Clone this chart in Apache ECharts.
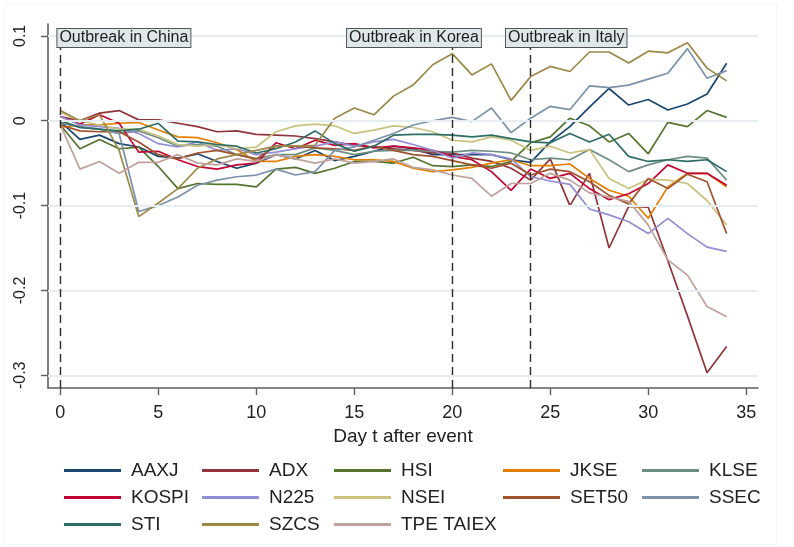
<!DOCTYPE html>
<html>
<head>
<meta charset="utf-8">
<script src="https://cdn.jsdelivr.net/npm/echarts@6/dist/echarts.min.js"></script>
<style>
html,body{margin:0;padding:0;background:#fff;}
#chart{width:794px;height:547px;}
</style>
</head>
<body>
<div id="chart"></div>
<script>
// ---------- data ----------
const days = [0,1,2,3,4,5,6,7,8,9,10,11,12,13,14,15,16,17,18,19,20,21,22,23,24,25,26,27,28,29,30,31,32,33,34];

const AAXJ = [-0.001,-0.022,-0.017,-0.027,-0.031,-0.042,-0.044,-0.039,-0.048,-0.056,-0.050,-0.040,-0.045,-0.035,-0.047,-0.042,-0.036,-0.030,-0.033,-0.040,-0.040,-0.040,-0.040,-0.046,-0.049,-0.025,-0.007,0.016,0.038,0.0185,0.025,0.0126,0.0197,0.0315,0.0677];
const ADX = [0.005,0.000,0.009,0.012,0.001,0.001,-0.003,-0.007,-0.013,-0.012,-0.016,-0.017,-0.018,-0.021,-0.025,-0.029,-0.031,-0.033,-0.035,-0.038,-0.038,-0.044,-0.048,-0.056,-0.070,-0.045,-0.100,-0.062,-0.150,-0.101,-0.102,-0.165,-0.230,-0.297,-0.266];
const HSI = [-0.005,-0.033,-0.022,-0.033,-0.031,-0.054,-0.080,-0.074,-0.075,-0.075,-0.078,-0.057,-0.055,-0.062,-0.056,-0.048,-0.048,-0.050,-0.043,-0.053,-0.054,-0.052,-0.054,-0.048,-0.026,-0.019,0.003,-0.006,-0.025,-0.015,-0.039,-0.002,-0.007,0.012,0.004];
const JKSE = [-0.008,-0.005,-0.005,-0.003,-0.002,-0.011,-0.019,-0.020,-0.026,-0.034,-0.048,-0.048,-0.042,-0.040,-0.042,-0.046,-0.046,-0.048,-0.056,-0.060,-0.058,-0.055,-0.050,-0.046,-0.053,-0.053,-0.051,-0.068,-0.082,-0.089,-0.115,-0.078,-0.062,-0.062,-0.078];
const KLSE = [-0.003,-0.007,-0.010,-0.015,-0.012,-0.020,-0.030,-0.028,-0.030,-0.040,-0.045,-0.040,-0.040,-0.032,-0.035,-0.040,-0.036,-0.035,-0.035,-0.036,-0.037,-0.035,-0.036,-0.038,-0.046,-0.044,-0.046,-0.034,-0.046,-0.060,-0.052,-0.046,-0.042,-0.044,-0.070];
const KOSPI = [0.005,-0.004,0.007,-0.003,-0.037,-0.036,-0.046,-0.054,-0.057,-0.052,-0.050,-0.026,-0.033,-0.023,-0.029,-0.027,-0.032,-0.030,-0.032,-0.035,-0.042,-0.046,-0.060,-0.082,-0.057,-0.068,-0.062,-0.080,-0.093,-0.086,-0.074,-0.052,-0.062,-0.062,-0.076];
const N225 = [0.005,-0.005,-0.007,-0.009,-0.015,-0.027,-0.031,-0.025,-0.035,-0.033,-0.040,-0.037,-0.033,-0.030,-0.025,-0.030,-0.025,-0.022,-0.028,-0.035,-0.044,-0.038,-0.040,-0.045,-0.066,-0.071,-0.075,-0.104,-0.111,-0.119,-0.133,-0.115,-0.133,-0.149,-0.154];
const NSEI = [0.010,0.000,-0.005,-0.010,-0.010,-0.018,-0.028,-0.030,-0.028,-0.033,-0.031,-0.013,-0.006,-0.004,-0.006,-0.015,-0.011,-0.006,-0.008,-0.013,-0.023,-0.025,-0.019,-0.023,-0.035,-0.030,-0.038,-0.034,-0.068,-0.080,-0.069,-0.070,-0.074,-0.094,-0.123];
const SET50 = [-0.005,-0.012,-0.013,-0.013,-0.025,-0.040,-0.045,-0.038,-0.035,-0.040,-0.045,-0.030,-0.030,-0.032,-0.033,-0.035,-0.030,-0.035,-0.040,-0.042,-0.047,-0.052,-0.056,-0.050,-0.064,-0.057,-0.060,-0.072,-0.088,-0.098,-0.068,-0.080,-0.063,-0.072,-0.133];
const SSEC = [0.000,-0.008,-0.010,-0.015,-0.107,-0.100,-0.090,-0.076,-0.070,-0.066,-0.064,-0.057,-0.064,-0.060,-0.035,-0.031,-0.023,-0.015,-0.005,0.000,0.004,-0.001,0.015,-0.014,0.003,0.017,0.013,0.041,0.039,0.042,0.049,0.056,0.085,0.050,0.059];
const STI = [0.000,-0.008,-0.010,-0.012,-0.010,-0.003,-0.024,-0.025,-0.028,-0.030,-0.038,-0.033,-0.025,-0.012,-0.027,-0.036,-0.030,-0.017,-0.016,-0.016,-0.017,-0.019,-0.017,-0.021,-0.025,-0.026,-0.015,-0.025,-0.016,-0.042,-0.048,-0.046,-0.048,-0.046,-0.060];
const SZCS = [0.012,0.000,0.007,-0.035,-0.113,-0.097,-0.080,-0.056,-0.045,-0.040,-0.035,-0.030,-0.030,-0.029,0.003,0.015,0.007,0.029,0.042,0.066,0.079,0.054,0.067,0.024,0.052,0.064,0.058,0.081,0.081,0.068,0.082,0.080,0.092,0.062,0.047];
const TPE_TAIEX = [-0.005,-0.057,-0.048,-0.062,-0.049,-0.049,-0.040,-0.050,-0.052,-0.045,-0.048,-0.040,-0.045,-0.050,-0.045,-0.050,-0.048,-0.045,-0.055,-0.058,-0.064,-0.068,-0.089,-0.074,-0.074,-0.062,-0.070,-0.085,-0.090,-0.095,-0.123,-0.164,-0.182,-0.219,-0.231];

const seriesNames = ['AAXJ','ADX','HSI','JKSE','KLSE','KOSPI','N225','NSEI','SET50','SSEC','STI','SZCS','TPE TAIEX'];
const seriesValues = [AAXJ,ADX,HSI,JKSE,KLSE,KOSPI,N225,NSEI,SET50,SSEC,STI,SZCS,TPE_TAIEX];

const xTicks = [0,5,10,15,20,25,30,35];
const yTicks = [-0.3,-0.2,-0.1,0,0.1];
const eventDays = [0,20,24];
const eventLabels = ['Outbreak in China','Outbreak in Korea','Outbreak in Italy'];
const xTitle = 'Day t after event';

// ---------- styling / layout ----------
const colors = ['#1a476f','#90353b','#55752f','#e37e00','#6e8e84','#c10534','#938dd2','#cac27e','#a0522d','#7b92a8','#2d6d66','#9c8847','#bfa19c'];
const font = "'Liberation Sans', Arial, Helvetica, sans-serif";
const labelAnchors = [[-0.15,0.0975],[14.63,0.0975],[22.74,0.0975]];
const legendCols = [['AAXJ','KOSPI','STI'],['ADX','N225','SZCS'],['HSI','NSEI','TPE TAIEX'],['JKSE','SET50'],['KLSE','SSEC']];
const legendLefts = [64,202,334,503,642];

const chart = echarts.init(document.getElementById('chart'), null, {renderer:'canvas'});

const dataSeries = seriesNames.map((name,i)=>({
  name: name,
  type: 'line',
  data: days.map((d,j)=>[d, seriesValues[i][j]]),
  symbol: 'none',
  showSymbol: false,
  lineStyle: {width: 1.7, color: colors[i]},
  itemStyle: {color: colors[i]},
  z: 3,
  silent: true
}));

const helper = {
  name: '_grid',
  type: 'line',
  data: [],
  z: 1,
  silent: true,
  markLine: {
    silent: true,
    symbol: ['none','none'],
    animation: false,
    label: {show: false},
    data: yTicks.map(v=>({yAxis: v, lineStyle:{color:'#e7eef1', width:2, type:'solid'}}))
      .concat(eventDays.map(d=>({xAxis: d, lineStyle:{color:'#2a2a2a', width:1.4, type:[8,5]}})))
  }
};

const annot = {
  name: '_annot',
  type: 'line',
  data: [],
  z: 6,
  silent: true,
  markPoint: {
    silent: true,
    animation: false,
    symbol: 'rect',
    symbolSize: 0,
    data: eventLabels.map((t,i)=>({
      coord: labelAnchors[i],
      label: {
        show: true,
        formatter: t,
        position: 'right',
        distance: 0,
        fontFamily: font,
        fontSize: 16,
        lineHeight: 16,
        color: '#1e1e1e',
        backgroundColor: '#dfe7eb',
        borderColor: '#555',
        borderWidth: 1,
        padding: [1,2,1,2]
      }
    }))
  }
};

const option = {
  animation: false,
  backgroundColor: '#ffffff',
  color: colors,
  grid: {left: 48, right: 36, top: 24, bottom: 159, containLabel: false},
  xAxis: {
    type: 'value',
    min: -0.63,
    max: 35.6,
    name: xTitle,
    nameLocation: 'middle',
    nameGap: 32,
    nameTextStyle: {fontFamily: font, fontSize: 19, color: '#222'},
    axisLine: {show: true, onZero: false, lineStyle: {color: '#5f5f5f', width: 1.6}},
    axisTick: {show: true, length: 7, customValues: xTicks, lineStyle: {color: '#5f5f5f', width: 1.4}},
    axisLabel: {customValues: xTicks, fontFamily: font, fontSize: 18, color: '#222', margin: 16},
    splitLine: {show: false}
  },
  yAxis: {
    type: 'value',
    min: -0.315,
    max: 0.114,
    axisLine: {show: true, onZero: false, lineStyle: {color: '#5f5f5f', width: 1.6}},
    axisTick: {show: true, length: 7, customValues: yTicks, lineStyle: {color: '#5f5f5f', width: 1.4}},
    axisLabel: {
      customValues: yTicks,
      rotate: 90,
      fontFamily: font, fontSize: 16, color: '#222', margin: 19,
      formatter: v => (Math.abs(v) < 1e-9 ? '0' : v.toFixed(1))
    },
    splitLine: {show: false}
  },
  legend: legendCols.map((cols,i)=>({
    data: cols,
    orient: 'vertical',
    left: legendLefts[i],
    top: 461,
    padding: 0,
    itemWidth: 57,
    itemHeight: 3,
    itemGap: 8,
    icon: 'rect',
    selectedMode: false,
    textStyle: {fontFamily: font, fontSize: 19, lineHeight: 19, color: '#222', padding: [0,0,0,5]}
  })),
  graphic: [{
    type: 'rect', silent: true, z: -10,
    shape: {x: 4.5, y: 4.5, width: 772, height: 540},
    style: {fill: 'none', stroke: '#f5f5f5', lineWidth: 1}
  }],
  series: [helper].concat(dataSeries).concat([annot])
};

chart.setOption(option);
</script>
</body>
</html>
